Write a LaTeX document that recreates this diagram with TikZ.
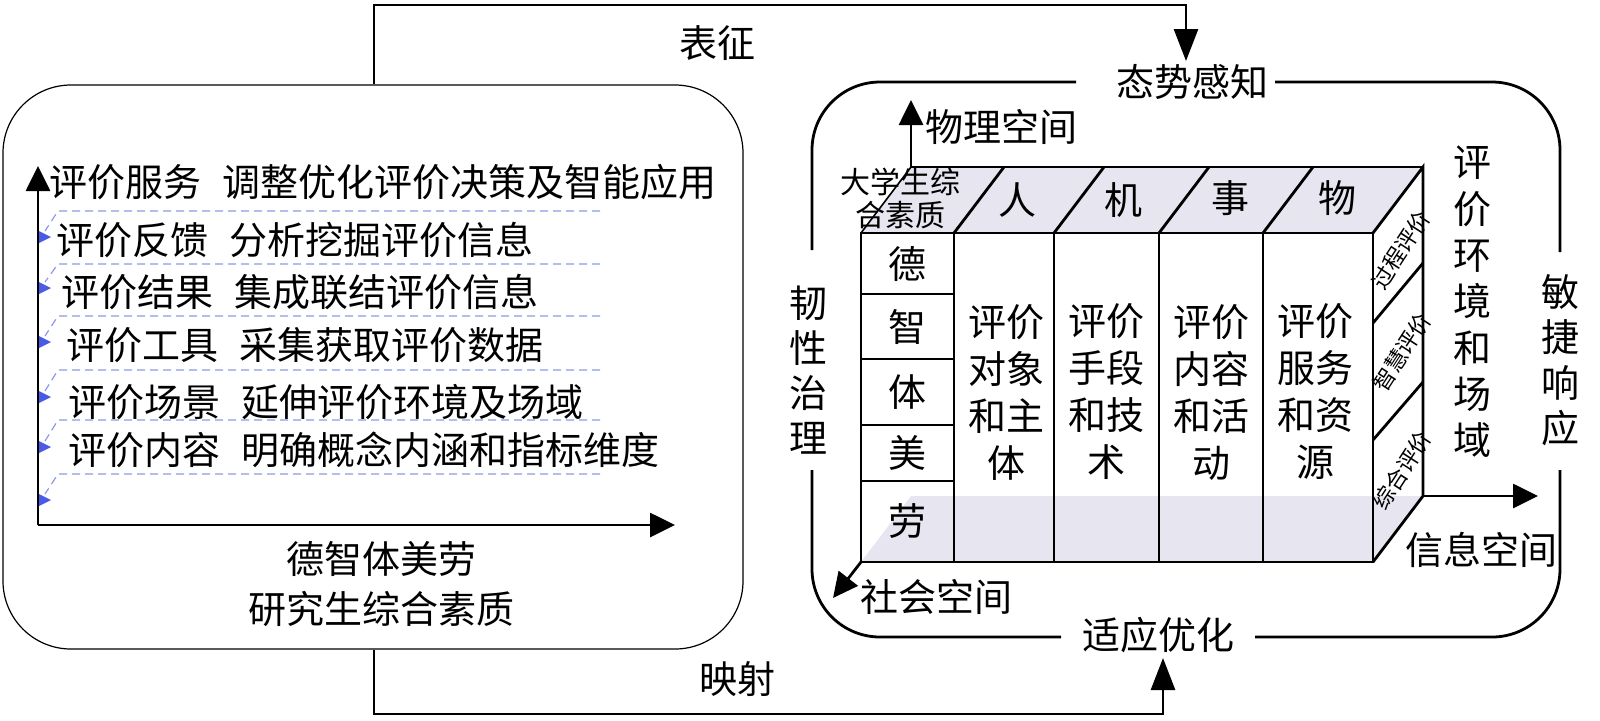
\documentclass[tikz,border=0pt]{standalone}
\usepackage{fontspec}
\setmainfont{Noto Sans CJK SC}
\usetikzlibrary{arrows.meta}
\definecolor{lav}{HTML}{E7E5EF}
\definecolor{dashc}{HTML}{8E99E3}
\definecolor{arrc}{HTML}{4A5BE6}
\begin{document}
\begin{tikzpicture}[x=0.5pt,y=-0.5pt,
  txt/.style={font=\fontsize{19pt}{23.5pt}\selectfont, inner sep=0pt},
  vt/.style={font=\fontsize{19pt}{#1}\selectfont, inner sep=0pt, align=center},
  small/.style={font=\fontsize{15pt}{16.5pt}\selectfont, inner sep=0pt, align=center},
  tiny/.style={font=\fontsize{11pt}{12pt}\selectfont, inner sep=0pt, rotate=57},
  frame/.style={line width=1.4pt, rounded corners=34pt},
  cube/.style={line width=1.4pt},
  conn/.style={line width=1.4pt},
  tri/.style={-{Triangle[width=12pt,length=12.5pt]}},
  bigtri/.style={-{Triangle[width=12pt,length=16pt]}},
  dsh/.style={dashc, line width=0.6pt, dash pattern=on 4pt off 2.5pt},
]
\useasboundingbox (0,0) rectangle (1600,720);

% ---------- left box ----------
\node[draw, line width=0.6pt, rounded corners=34pt, minimum width=370pt, minimum height=282pt, inner sep=0pt] (leftbox) at (373,367) {};

\coordinate (O) at (38,525);
\coordinate (ytip) at (38,166);
\coordinate (xtip) at (675,525);
\draw[conn,tri] (O) -- (ytip);
\draw[conn,tri] (O) -- (xtip);

\node[txt, anchor=west] (r1) at (49,182) {评价服务\hspace{0.55em}调整优化评价决策及智能应用};
\node[txt, anchor=west] (r2) at (56,240) {评价反馈\hspace{0.55em}分析挖掘评价信息};
\node[txt, anchor=west] (r3) at (61,292) {评价结果\hspace{0.55em}集成联结评价信息};
\node[txt, anchor=west] (r4) at (66,345) {评价工具\hspace{0.55em}采集获取评价数据};
\node[txt, anchor=west] (r5) at (68,402) {评价场景\hspace{0.55em}延伸评价环境及场域};
\node[txt, anchor=west] (r6) at (68,450) {评价内容\hspace{0.55em}明确概念内涵和指标维度};

\foreach \yl/\ya in {211/237, 264/288, 316/342, 370/397, 420/447, 474/500}{
  \draw[dsh] (600,\yl) -- (58,\yl) -- (45,\ya-6);
  \fill[arrc] (39,\ya-6) -- (51,\ya) -- (39,\ya+6) -- cycle;
}

\node[txt] (dzt) at (381,559) {德智体美劳};
\node[txt] (yjs) at (381,609) {研究生综合素质};

% ---------- connectors between halves ----------
\node[txt] (taishi) at (1192,82) {态势感知};
\node[txt] (shiying) at (1158,635) {适应优化};
\node[txt] (biaozheng) at (717,43) {表征};
\node[txt] (yingshe) at (737,679) {映射};
\coordinate (t1) at (374,5);
\coordinate (t2) at (1186,5);
\coordinate (t3) at (1186,61);
\coordinate (b1) at (374,714);
\coordinate (b2) at (1163,714);
\coordinate (b3) at (1163,658);
\draw[conn,bigtri] (leftbox.north -| t1) -- (t1) -- (t2) -- (t3);
\draw[conn,bigtri] (leftbox.south -| b1) -- (b1) -- (b2) -- (b3);

% ---------- right frame ----------
\draw[frame] (1076,82) -- (812,82) -- (812,250);
\draw[frame] (1275,82) -- (1560,82) -- (1560,252);
\draw[frame] (812,470) -- (812,637) -- (1061,637);
\draw[frame] (1560,470) -- (1560,637) -- (1255,637);

\node[vt=22.4pt] (renxing) at (808,370) {韧\\性\\治\\理};
\node[vt=22.7pt] (minjie) at (1560,360) {敏\\捷\\响\\应};
\node[vt=23.15pt] (huanjing) at (1472,302) {评\\价\\环\\境\\和\\场\\域};

% ---------- cube ----------
\fill[lav] (861,562) -- (1373,562) -- (1423,496) -- (911,496) -- cycle;
\fill[lav] (861,233) -- (1373,233) -- (1423,167) -- (911,167) -- cycle;

\node[small] (dxs) at (900,198) {大学生综\\合素质};
\draw[line width=0.8pt] (861,233) -- (911,167);
\draw[line width=1pt] (911,167) -- (1423,167);

\draw[cube] (861,233) rectangle (1373,562);
\foreach \x in {954,1054,1159,1263}{
  \draw[cube] (\x,233) -- (\x,562);
  \draw[cube] (\x,233) -- (\x+50,167);
}
\draw[cube] (1373,233) -- (1423,167) -- (1423,496) -- (1373,562);
\draw[cube] (1373,323) -- (1423,263);
\draw[cube] (1373,440) -- (1423,382);
\foreach \y in {294,359,425,481}{
  \draw[cube] (861,\y) -- (954,\y);
}

\node[txt] (de) at (907,264) {德};
\node[txt] (zhi) at (907,327) {智};
\node[txt] (ti) at (907,392) {体};
\node[txt] (mei) at (907,453) {美};
\node[txt] (lao) at (907,521) {劳};

\node[txt] (ren) at (1017,200) {人};
\node[txt] (ji) at (1123,200) {机};
\node[txt] (shi) at (1230,198) {事};
\node[txt] (wu) at (1337,198) {物};

\node[vt=23.5pt] (c1) at (1006,392) {评价\\对象\\和主\\体};
\node[vt=23.5pt] (c2) at (1106,392) {评价\\手段\\和技\\术};
\node[vt=23.5pt] (c3) at (1211,392) {评价\\内容\\和活\\动};
\node[vt=23.5pt] (c4) at (1315,392) {评价\\服务\\和资\\源};

\node[tiny] (gc) at (1401,250) {过程评价};
\node[tiny] (zh) at (1402,352) {智慧评价};
\node[tiny] (zp) at (1402,470) {综合评价};

% axes of the cube
\coordinate (physO) at (911,167);
\coordinate (phystip) at (911,100);
\coordinate (infoO) at (1423,496);
\coordinate (infotip) at (1538,496);
\coordinate (socO) at (861,562);
\coordinate (soctip) at (833,598);
\draw[conn,tri] (physO) -- (phystip);
\draw[conn,tri] (infoO) -- (infotip);
\draw[conn,tri] (socO) -- (soctip);

\node[txt, anchor=west] (wl) at (925,127) {物理空间};
\node[txt] (xx) at (1481,550) {信息空间};
\node[txt, anchor=west] (sh) at (860,597) {社会空间};
\end{tikzpicture}
\end{document}
